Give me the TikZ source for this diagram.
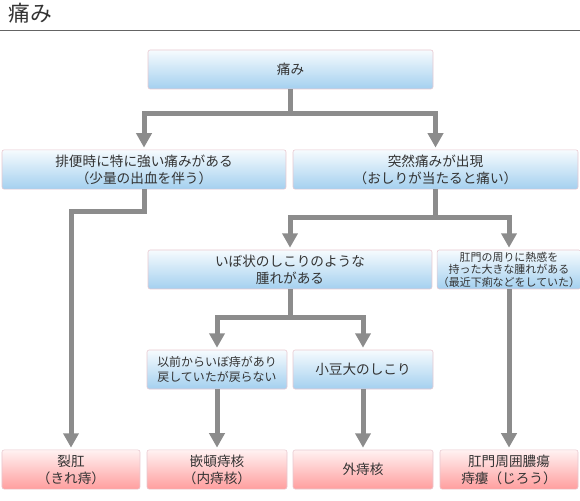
\documentclass[tikz,border=0pt]{standalone}
\usepackage{fontspec}
\setmainfont{Noto Sans CJK JP}
\usetikzlibrary{arrows.meta}

\begin{document}
\begin{tikzpicture}[
    itamibox/.style={shape=rectangle,draw=itami_edge,line width=0.4pt,rounded corners=1.5pt,text=itami_text,minimum height=0.975cm,align=center,font=\fontsize{9.7}{12.1}\selectfont},
    bluebox/.style={itamibox,top color=itami_bluetop,middle color=itami_bluemid,bottom color=itami_bluebot},
    pinkbox/.style={itamibox,top color=itami_pinktop,middle color=itami_pinkmid,bottom color=itami_pinkbot},
    flow/.style={draw=itami_arrow,line width=0.125cm,-{Triangle[width=0.375cm,length=0.36cm]},shorten >=0.05cm}
  ]
    \definecolor{itami_text}{RGB}{51,51,51}
    \definecolor{itami_edge}{RGB}{232,200,208}
    \definecolor{itami_bluetop}{RGB}{246,251,254}
    \definecolor{itami_bluemid}{RGB}{188,222,245}
    \definecolor{itami_bluebot}{RGB}{164,208,239}
    \definecolor{itami_pinktop}{RGB}{255,242,242}
    \definecolor{itami_pinkmid}{RGB}{255,183,183}
    \definecolor{itami_pinkbot}{RGB}{255,158,158}
    \definecolor{itami_arrow}{RGB}{140,140,140}
    \definecolor{itami_rule}{RGB}{100,100,100}
    \useasboundingbox (0,0) rectangle (14.5,12.5);
    % title
    \node[anchor=base west,text=itami_text,font=\fontsize{15.5}{17}\selectfont,inner sep=0pt] (title) at (0.2,11.95) {痛み};
    \draw[itami_rule,line width=0.7pt] (0,11.75) -- (14.5,11.75);
    % boxes
    \node[bluebox,minimum width=7.125cm] (itami) at (7.2625,10.7625) {痛み};
    \node[bluebox,minimum width=7.1cm] (haiben) at (3.6,8.2625) {排便時に特に強い痛みがある\\（少量の出血を伴う）};
    \node[bluebox,minimum width=7.125cm] (totsuzen) at (10.8875,8.2625) {突然痛みが出現\\（おしりが当たると痛い）};
    \node[bluebox,minimum width=7.1cm] (ibo) at (7.25,5.7625) {いぼ状のしこりのような\\腫れがある};
    \node[bluebox,minimum width=3.45cm,inner sep=0.5pt,font=\fontsize{7.8}{8.9}\selectfont] (komon) at (12.725,5.7625) {肛門の周りに熱感を\\持った大きな腫れがある\\（最近下痢などをしていた）};
    \node[bluebox,minimum width=3.5cm,font=\fontsize{8.5}{11}\selectfont] (izen) at (5.425,3.2625) {以前からいぼ痔があり\\戻していたが戻らない};
    \node[bluebox,minimum width=3.5cm] (azuki) at (9.075,3.2625) {小豆大のしこり};
    \node[pinkbox,minimum width=3.45cm] (rekko) at (1.775,0.7625) {裂肛\\（きれ痔）};
    \node[pinkbox,minimum width=3.5cm] (kanton) at (5.425,0.7625) {嵌頓痔核\\（内痔核）};
    \node[pinkbox,minimum width=3.5cm] (gaijikaku) at (9.075,0.7625) {外痔核};
    \node[pinkbox,minimum width=3.45cm] (noyo) at (12.725,0.7625) {肛門周囲膿瘍\\痔瘻（じろう）};
    % connectors
    \draw[flow] (itami.south) -- ++(0,-0.6) -| (haiben.north);
    \draw[flow] (itami.south) -- ++(0,-0.6) -| (totsuzen.north);
    \draw[flow] (haiben.south) -- ++(0,-0.55) -| (rekko.north);
    \draw[flow] (totsuzen.south) -- ++(0,-0.7) -| (ibo.north);
    \draw[flow] (totsuzen.south) -- ++(0,-0.7) -| (komon.north);
    \draw[flow] (ibo.south) -- ++(0,-0.7) -| (izen.north);
    \draw[flow] (ibo.south) -- ++(0,-0.7) -| (azuki.north);
    \draw[flow] (izen.south) -- (kanton.north);
    \draw[flow] (azuki.south) -- (gaijikaku.north);
    \draw[flow] (komon.south) -- (noyo.north);
\end{tikzpicture}
\end{document}
